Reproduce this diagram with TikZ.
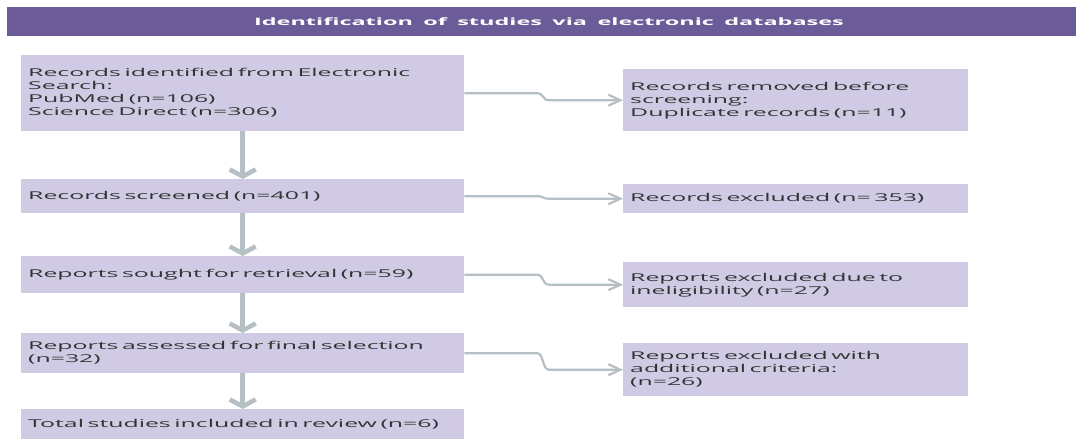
\documentclass[tikz,border=0pt]{standalone}
\usepackage{fontspec}
\setmainfont{Open Sans}[FakeStretch=2.3,WordSpace=1.7]
\usetikzlibrary{arrows.meta}
\definecolor{headbar}{HTML}{6B5B98}
\definecolor{boxfill}{HTML}{D0CAE5}
\definecolor{boxtext}{HTML}{333333}
\definecolor{linkgray}{HTML}{B6BFC3}
\begin{document}
\begin{tikzpicture}[x=1pt,y=-1pt,line join=round,
	box/.style={fill=boxfill,text=boxtext,anchor=north west,align=left,inner xsep=7pt,
		font=\fontsize{10.8}{13}\selectfont},
	lbox/.style={box,text width=429pt},
	rbox/.style={box,text width=331pt},
	down/.style={draw=linkgray,line width=4.5pt,-{Straight Barb[length=7pt,width=26pt]}},
	side/.style={draw=linkgray,line width=2.2pt,-{Straight Barb[length=12pt,width=11pt]}}]
	\useasboundingbox (0,0) rectangle (1081,439);
	% header
	\fill[headbar] (7,7) rectangle (1076,36);
	\node[text=white,font=\bfseries\fontsize{10.2}{12}\selectfont] (title) at (549,21.5)
	{Identification of studies via electronic databases};
	% main column
	\node[lbox,minimum height=76pt] (rec) at (21,55)
	{Records identified from Electronic\\Search:\\PubMed (n=106)\\Science Direct (n=306)};
	\node[lbox,minimum height=34pt] (scr) at (21,179) {Records screened (n=401)};
	\node[lbox,minimum height=37pt] (sought) at (21,256) {Reports sought for retrieval (n=59)};
	\node[lbox,minimum height=40pt] (assess) at (21,333) {Reports assessed for final selection\\(n=32)};
	\node[lbox,minimum height=30pt] (incl) at (21,409) {Total studies included in review (n=6)};
	% exclusions
	\node[rbox,minimum height=62pt] (dup) at (623,69)
	{Records removed before\\screening:\\Duplicate records (n=11)};
	\node[rbox,minimum height=29pt] (exscr) at (623,184) {Records excluded (n= 353)};
	\node[rbox,minimum height=45pt] (exelig) at (623,262) {Reports excluded due to\\ineligibility (n=27)};
	\node[rbox,minimum height=53pt] (excrit) at (623,343) {Reports excluded with\\additional criteria:\\(n=26)};
	% arrows
	\coordinate (bl) at (537,0);
	\coordinate (br) at (549,0);
	\foreach \a/\b in {rec/scr,scr/sought,sought/assess,assess/incl}
	\draw[down] (\a.south) -- (\b.north);
	\foreach \a/\b in {rec/dup,scr/exscr,sought/exelig,assess/excrit}
	\draw[side] (\a.east) -- (\a.east -| bl) .. controls +(7,0) and +(-7,0) .. (\b.west -| br) -- (\b.west);
\end{tikzpicture}
\end{document}
